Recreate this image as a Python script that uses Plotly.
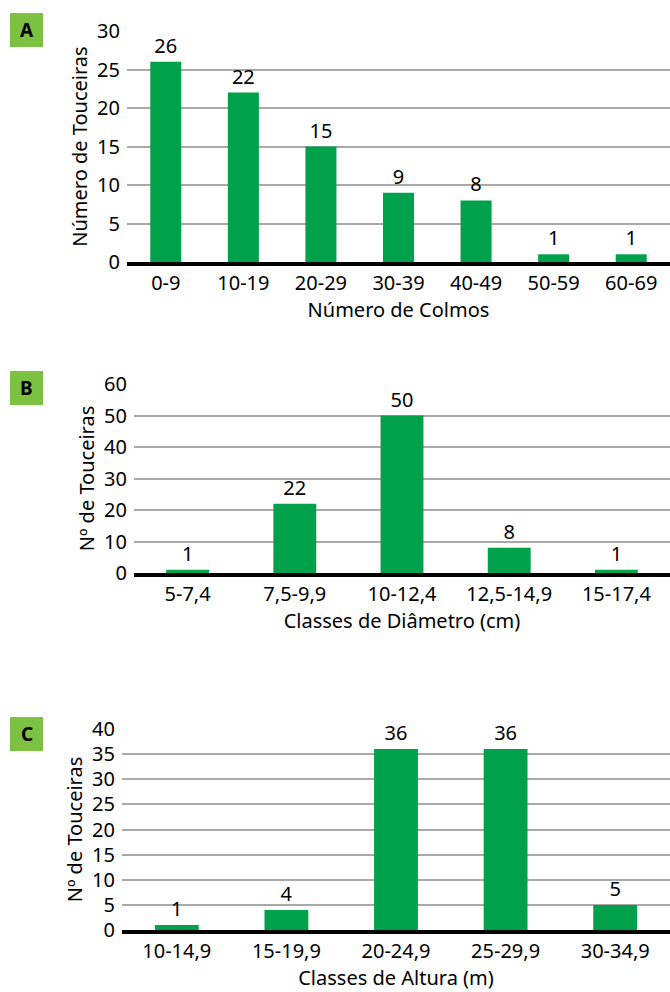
import plotly.graph_objects as go

W, H = 670, 992

# Data
cat_a = ["0-9", "10-19", "20-29", "30-39", "40-49", "50-59", "60-69"]
val_a = [26, 22, 15, 9, 8, 1, 1]
cat_b = ["5-7,4", "7,5-9,9", "10-12,4", "12,5-14,9", "15-17,4"]
val_b = [1, 22, 50, 8, 1]
cat_c = ["10-14,9", "15-19,9", "20-24,9", "25-29,9", "30-34,9"]
val_c = [1, 4, 36, 36, 5]

GREEN = "#00a14b"
BOX = "#7dc142"
FONT = "Noto Sans"
FS = 20

def py(p):
    return 1 - p / H

def px(p):
    return p / W

fig = go.Figure()

panels = [
    dict(cats=cat_a, vals=val_a, x0=127, top=31, bot=262, rng=[0, 30], dt=5,
         xt="Número de Colmos", yt="Número de Touceiras", lab="A", boxy=13),
    dict(cats=cat_b, vals=val_b, x0=134, top=384, bot=573, rng=[0, 60], dt=10,
         xt="Classes de Diâmetro (cm)", yt="Nº de Touceiras", lab="B", boxy=371),
    dict(cats=cat_c, vals=val_c, x0=122, top=729, bot=930, rng=[0, 40], dt=5,
         xt="Classes de Altura (m)", yt="Nº de Touceiras", lab="C", boxy=717),
]

layout = dict(
    width=W, height=H, margin=dict(l=0, r=0, t=0, b=0),
    paper_bgcolor="white", plot_bgcolor="white",
    font=dict(family=FONT, size=FS, color="black"),
    showlegend=False, bargap=0.6,
)
shapes = []
annotations = []

for i, p in enumerate(panels, start=1):
    xa = "x" if i == 1 else f"x{i}"
    ya = "y" if i == 1 else f"y{i}"
    fig.add_trace(go.Bar(
        x=p["cats"], y=p["vals"], xaxis=xa, yaxis=ya,
        marker=dict(color=GREEN, line=dict(width=0)),
        text=[str(v) for v in p["vals"]], textposition="outside",
        textfont=dict(size=FS, color="black", family=FONT),
        constraintext="none", cliponaxis=False,
    ))
    xk = "xaxis" if i == 1 else f"xaxis{i}"
    yk = "yaxis" if i == 1 else f"yaxis{i}"
    layout[xk] = dict(
        domain=[px(p["x0"]), 1.0], anchor=ya, automargin=False,
        showline=True, linecolor="black", linewidth=4,
        showgrid=False, ticks="", tickfont=dict(size=FS),
        title=dict(text=p["xt"], font=dict(size=FS), standoff=4),
        fixedrange=True,
    )
    layout[yk] = dict(
        domain=[py(p["bot"]), py(p["top"])], anchor=xa, automargin=False,
        range=p["rng"], dtick=p["dt"], tick0=0,
        showgrid=True, gridcolor="#a9a9a9", gridwidth=1.5,
        zeroline=False, showline=False, ticks="",
        ticklabelstandoff=6, tickfont=dict(size=FS),
        title=dict(text=p["yt"], font=dict(size=FS), standoff=4),
        fixedrange=True,
    )
    shapes.append(dict(type="rect", xref="paper", yref="paper",
                       x0=px(10), x1=px(43), y0=py(p["boxy"] + 34), y1=py(p["boxy"]),
                       fillcolor=BOX, line=dict(width=0), layer="above"))
    annotations.append(dict(text=f"<b>{p['lab']}</b>", xref="paper", yref="paper",
                            x=px(26.5), y=py(p["boxy"] + 17), showarrow=False,
                            xanchor="center", yanchor="middle",
                            font=dict(size=19, color="black", family=FONT)))

layout["shapes"] = shapes
layout["annotations"] = annotations
fig.update_layout(**layout)
fig.write_html(
    "out.html",
    config={"displayModeBar": False},
    post_script="document.body.style.margin='0';document.body.style.overflow='hidden';",
)
